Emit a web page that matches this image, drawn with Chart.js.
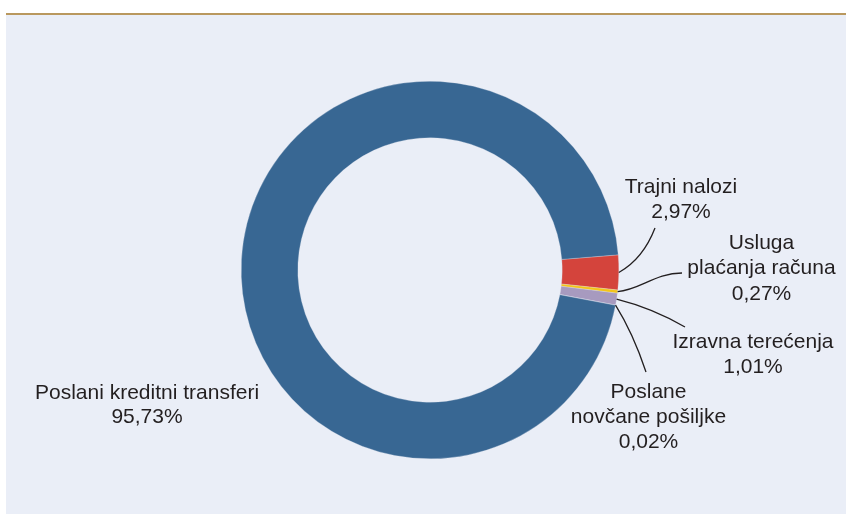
<!DOCTYPE html>
<html>
<head>
<meta charset="utf-8">
<script src="https://cdn.jsdelivr.net/npm/chart.js@4.4.1/dist/chart.umd.min.js"></script>
<style>
  html, body { margin: 0; padding: 0; background: #ffffff; }
  #panel { position: absolute; left: 6px; top: 13px; width: 840px; height: 499px;
           background: #eaeef7; border-top: 2px solid #b9985e; }
  #chart { position: absolute; left: 0; top: 0; }
</style>
</head>
<body>
<div id="panel"></div>
<canvas id="chart" width="846" height="514"></canvas>
<script>
// ===== podaci =====
const categories = ['Trajni nalozi', 'Usluga plaćanja računa', 'Izravna terećenja', 'Poslane novčane pošiljke', 'Poslani kreditni transferi'];
const shares = [2.97, 0.27, 1.01, 0.02, 95.73];
const labelLines = [['Trajni nalozi'], ['Usluga', 'plaćanja računa'], ['Izravna terećenja'], ['Poslane', 'novčane pošiljke'], ['Poslani kreditni transferi']];
const sliceColors = ['#d4443c', '#f3c41a', '#a79abf', '#8f86b0', '#386793'];

// položaj natpisa i linija (odmak od središta kruga)
const labelLayout = [
    { x: 251, y: -77.5, lh: 25, c1: [213, -11], end: [225, -42] },
    { x: 331.5, y: -21.5, lh: 25.5, c1: [210, 20], c2: [225, 3], end: [252, 3] },
    { x: 323, y: 78, lh: 24.5, c1: [222, 38], end: [255, 57] },
    { x: 218.5, y: 127.5, lh: 25, c1: [203, 63], end: [216, 102] },
    { x: -283, y: 129, lh: 24 }
];

const fmtPct = v => v.toFixed(2).replace('.', ',') + '%';

const calloutPlugin = {
    id: 'callouts',
    afterDatasetsDraw(chart) {
        const ctx = chart.ctx;
        const arcs = chart.getDatasetMeta(0).data;
        ctx.save();
        ctx.strokeStyle = '#231f20';
        ctx.lineWidth = 1.3;
        ctx.fillStyle = '#231f20';
        ctx.font = '21px "Liberation Sans", Arial, Helvetica, sans-serif';
        ctx.textAlign = 'center';
        ctx.textBaseline = 'alphabetic';
        arcs.forEach((arc, i) => {
            const { x, y, startAngle, endAngle, outerRadius } = arc.getProps(['x', 'y', 'startAngle', 'endAngle', 'outerRadius'], true);
            const lay = labelLayout[i];
            if (lay.end) {
                const mid = (startAngle + endAngle) / 2;
                const sx = x + Math.cos(mid) * outerRadius;
                const sy = y + Math.sin(mid) * outerRadius;
                ctx.beginPath();
                ctx.moveTo(sx, sy);
                if (lay.c2) {
                    ctx.bezierCurveTo(x + lay.c1[0], y + lay.c1[1], x + lay.c2[0], y + lay.c2[1], x + lay.end[0], y + lay.end[1]);
                } else {
                    ctx.quadraticCurveTo(x + lay.c1[0], y + lay.c1[1], x + lay.end[0], y + lay.end[1]);
                }
                ctx.stroke();
            }
            const lines = [...labelLines[i], fmtPct(shares[i])];
            lines.forEach((t, k) => ctx.fillText(t, x + lay.x, y + lay.y + k * lay.lh));
        });
        ctx.restore();
    }
};

new Chart(document.getElementById('chart').getContext('2d'), {
    type: 'doughnut',
    data: {
        labels: categories,
        datasets: [{ data: shares, backgroundColor: sliceColors, borderColor: '#dfe3ee', borderWidth: 0.3 }]
    },
    options: {
        responsive: false,
        animation: false,
        cutout: '70%',
        rotation: 85.4,
        layout: { padding: { left: 241, top: 81, right: 227, bottom: 55 } },
        plugins: { legend: { display: false }, tooltip: { enabled: false } }
    },
    plugins: [calloutPlugin]
});
</script>
</body>
</html>
